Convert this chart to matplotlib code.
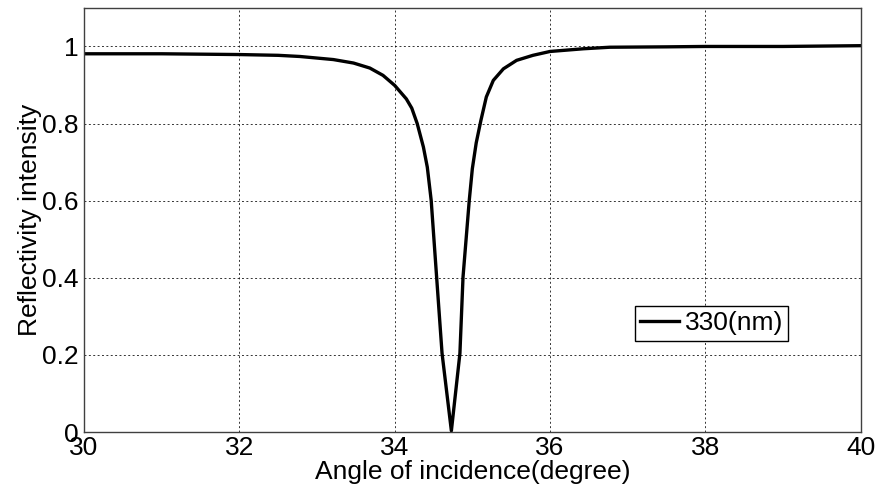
import matplotlib
matplotlib.use("Agg")
import matplotlib.pyplot as plt

# reflectivity curve
angle = [30.0, 31.0, 32.0, 32.5, 32.78, 33.21, 33.47, 33.68, 33.85, 34.0, 34.15,
         34.22, 34.29, 34.37, 34.42, 34.47, 34.54, 34.61, 34.73, 34.84, 34.88,
         34.96, 35.0, 35.05, 35.11, 35.18, 35.27, 35.4, 35.57, 35.78, 36.0,
         36.43, 36.77, 37.5, 38.0, 39.0, 40.0]
reflectivity = [0.981, 0.981, 0.979, 0.977, 0.974, 0.966, 0.957, 0.944, 0.925, 0.899,
                0.864, 0.84, 0.8, 0.739, 0.687, 0.601, 0.402, 0.204, 0.003, 0.204,
                0.402, 0.6, 0.683, 0.75, 0.808, 0.869, 0.912, 0.942, 0.964, 0.977,
                0.987, 0.994, 0.998, 0.999, 1.0, 1.0, 1.002]
series_label = "330(nm)"
x_ticks = [30, 32, 34, 36, 38, 40]
y_ticks = [0, 0.2, 0.4, 0.6, 0.8, 1]
y_tick_labels = ["0", "0.2", "0.4", "0.6", "0.8", "1"]

plt.rcParams['font.family'] = ['Liberation Sans', 'DejaVu Sans']

fig = plt.figure(figsize=(8.8, 4.94), dpi=100)
ax = fig.add_axes([0.0955, 0.1255, 0.8825, 0.8585])

ax.plot(angle, reflectivity, color="black", linewidth=2.4, label=series_label,
        solid_joinstyle="round")

ax.set_xlim(30, 40)
ax.set_ylim(0, 1.1)
ax.set_xticks(x_ticks)
ax.set_yticks(y_ticks)
ax.set_yticklabels(y_tick_labels)
ax.tick_params(direction="in", length=0, labelsize=19, pad=4)
ax.tick_params(axis="x", pad=3)

ax.grid(True, color="black", linestyle=(0, (2, 2.5)), linewidth=0.7, alpha=0.8)
for s in ax.spines.values():
    s.set_color("#404040")
    s.set_linewidth(1.0)

ax.set_xlabel("Angle of incidence(degree)", fontsize=19, labelpad=0)
ax.set_ylabel("Reflectivity intensity", fontsize=19, labelpad=0)

leg = ax.legend(loc="upper right", bbox_to_anchor=(0.907, 0.297), borderaxespad=0,
                fontsize=19, handlelength=1.5, handletextpad=0.2, borderpad=0.2,
                fancybox=False, framealpha=1)
leg.get_frame().set_edgecolor("black")
leg.get_frame().set_linewidth(1.0)

fig.savefig("out.png", dpi=100)
